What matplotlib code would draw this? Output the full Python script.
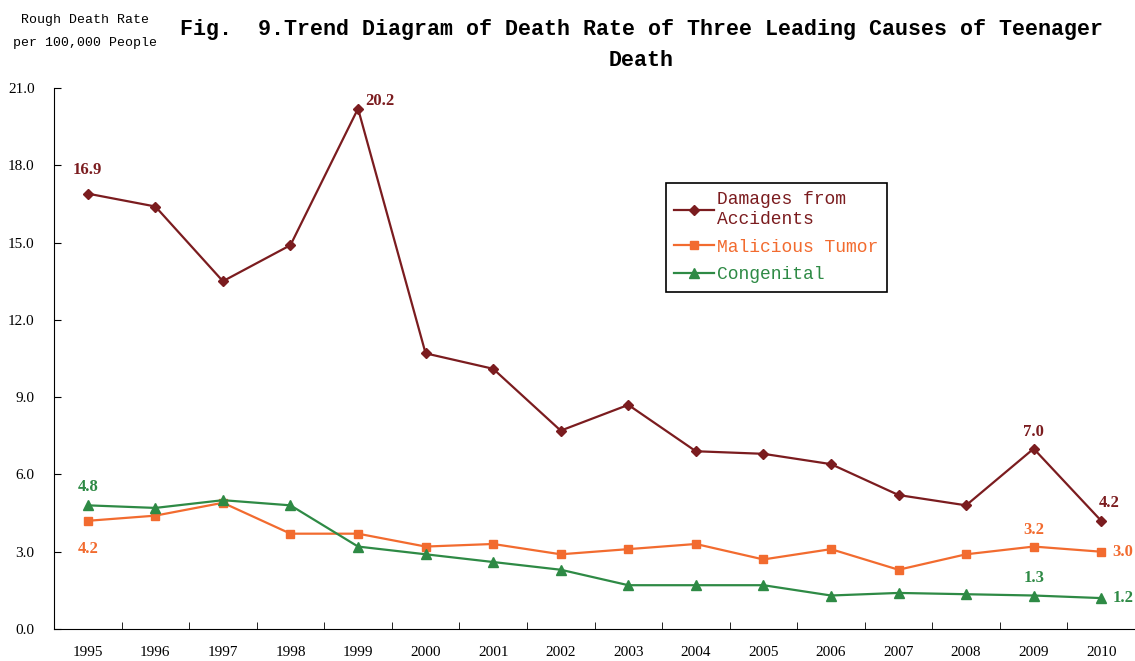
import matplotlib.pyplot as plt

years = [str(y) for y in range(1995, 2011)]
accidents = [16.9, 16.4, 13.5, 14.9, 20.2, 10.7, 10.1, 7.7, 8.7, 6.9, 6.8, 6.4, 5.2, 4.8, 7.0, 4.2]
tumor = [4.2, 4.4, 4.9, 3.7, 3.7, 3.2, 3.3, 2.9, 3.1, 3.3, 2.7, 3.1, 2.3, 2.9, 3.2, 3.0]
congenital = [4.8, 4.7, 5.0, 4.8, 3.2, 2.9, 2.6, 2.3, 1.7, 1.7, 1.7, 1.3, 1.4, 1.35, 1.3, 1.2]
yticks = [0, 3, 6, 9, 12, 15, 18, 21]

c_acc = "#7b1c1f"
c_tum = "#f26b2f"
c_con = "#2e8a45"
mono = "Liberation Mono"
serif = "Liberation Serif"

fig = plt.figure(figsize=(11.35, 6.61), dpi=100)
ax = fig.add_axes([54 / 1135, 1 - 629 / 661, 1 - 54 / 1135, (629 - 88) / 661])

x = list(range(len(years)))
ax.plot(x, accidents, color=c_acc, lw=1.6, marker="D", ms=5, label="Damages from\nAccidents")
ax.plot(x, tumor, color=c_tum, lw=1.6, marker="s", ms=6, label="Malicious Tumor")
ax.plot(x, congenital, color=c_con, lw=1.6, marker="^", ms=6.5, label="Congenital")

ax.set_xlim(-0.5, 15.5)
ax.set_ylim(0, 21)
ax.set_yticks(yticks)
ax.set_yticklabels([f"{v:.1f}" for v in yticks], fontfamily=serif, fontsize=11)
ax.set_xticks(x)
ax.set_xticklabels(years, fontfamily=serif, fontsize=11)
ax.set_xticks([i + 0.5 for i in x], minor=True)
ax.tick_params(axis="x", which="major", length=0, pad=12)
ax.tick_params(axis="x", which="minor", direction="in", length=5)
ax.tick_params(axis="y", direction="in", length=5, pad=14)
for s in ["top", "right"]:
    ax.spines[s].set_visible(False)

lab = dict(fontfamily=serif, fontweight="bold", fontsize=12)
ax.annotate(f"{accidents[0]:.1f}", (0, accidents[0]), xytext=(0, 14), textcoords="offset points", ha="center", color=c_acc, **lab)
ax.annotate(f"{accidents[4]:.1f}", (4, accidents[4]), xytext=(5, 0), textcoords="offset points", ha="left", va="bottom", color=c_acc, **lab)
ax.annotate(f"{accidents[14]:.1f}", (14, accidents[14]), xytext=(0, 9), textcoords="offset points", ha="center", color=c_acc, **lab)
ax.annotate(f"{accidents[15]:.1f}", (15, accidents[15]), xytext=(6, 10), textcoords="offset points", ha="center", color=c_acc, **lab)
ax.annotate(f"{tumor[0]:.1f}", (0, tumor[0]), xytext=(0, -20), textcoords="offset points", ha="center", va="center", color=c_tum, **lab)
ax.annotate(f"{tumor[14]:.1f}", (14, tumor[14]), xytext=(0, 9), textcoords="offset points", ha="center", color=c_tum, **lab)
ax.annotate(f"{tumor[15]:.1f}", (15, tumor[15]), xytext=(8, 0), textcoords="offset points", ha="left", va="center", color=c_tum, **lab)
ax.annotate(f"{congenital[0]:.1f}", (0, congenital[0]), xytext=(0, 10), textcoords="offset points", ha="center", color=c_con, **lab)
ax.annotate(f"{congenital[14]:.1f}", (14, congenital[14]), xytext=(0, 10), textcoords="offset points", ha="center", color=c_con, **lab)
ax.annotate(f"{congenital[15]:.1f}", (15, congenital[15]), xytext=(8, 0), textcoords="offset points", ha="left", va="center", color=c_con, **lab)

leg = ax.legend(loc="upper left", bbox_to_anchor=(666 / 1135, 1 - 183 / 661), bbox_transform=fig.transFigure,
                borderaxespad=0, fancybox=False, edgecolor="black", framealpha=1,
                prop={"family": mono, "size": 13}, labelcolor="linecolor",
                handlelength=2.2, handletextpad=0.2, labelspacing=0.6, borderpad=0.45)
leg.get_frame().set_linewidth(1.2)

fig.text(85 / 1135, 1 - 20 / 661, "Rough Death Rate", ha="center", va="center", fontfamily=mono, fontsize=9.5)
fig.text(85 / 1135, 1 - 43 / 661, "per 100,000 People", ha="center", va="center", fontfamily=mono, fontsize=9.5)
fig.text(641 / 1135, 1 - 29 / 661, "Fig.  9.Trend Diagram of Death Rate of Three Leading Causes of Teenager",
         ha="center", va="center", fontfamily=mono, fontweight="bold", fontsize=15.6)
fig.text(641 / 1135, 1 - 60 / 661, "Death", ha="center", va="center", fontfamily=mono, fontweight="bold", fontsize=15.6)

fig.savefig("out.png", dpi=100)
